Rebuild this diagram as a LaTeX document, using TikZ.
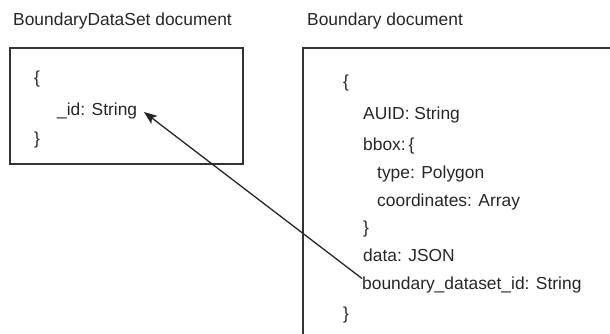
\documentclass[tikz,border=0pt]{standalone}
\usepackage{fontspec}
\setmainfont{Liberation Sans}
\usetikzlibrary{arrows.meta}
\begin{document}
\begin{tikzpicture}[x=1pt,y=-1pt,
  txt/.style={anchor=base west,inner sep=0pt,font=\fontsize{17.4}{20}\selectfont,text=black!85},
  box/.style={draw=black!80,line width=1.3pt},
  link/.style={draw=black!85,line width=1.3pt,-{Stealth[length=13pt,width=10pt,inset=3pt]}}]
\useasboundingbox (0,0) rectangle (610,334);
\clip (0,0) rectangle (610,334);
% titles
\node[txt] (t1) at (13,26) {BoundaryDataSet document};
\node[txt] (t2) at (307,26) {Boundary document};
% boxes
\draw[box] (10,48) rectangle (243,164);
\draw[box] (303,48) rectangle (640,360);
% left content
\node[txt] (lo) at (34,84) {\{};
\node[txt] (id) at (57,116) {\_id: String};
\node[txt] (lc) at (34,145) {\}};
% right content
\node[txt] (ro) at (343,88) {\{};
\node[txt] (auid) at (363,120) {AUID: String};
\node[txt] (bbox) at (363,150) {bbox:\,\{};
\node[txt] (type) at (377,178) {type: Polygon};
\node[txt] (coord) at (377,206) {coordinates: Array};
\node[txt] (bc) at (363,233) {\}};
\node[txt] (data) at (363,261) {data: JSON};
\node[txt] (bid) at (362,289) {boundary\_dataset\_id: String};
\node[txt] (rc) at (343,319) {\}};
% connector
\coordinate (tip) at (144,112);
\draw[link] (bid.west) ++(0,-6) -- (tip);
\end{tikzpicture}
\end{document}
